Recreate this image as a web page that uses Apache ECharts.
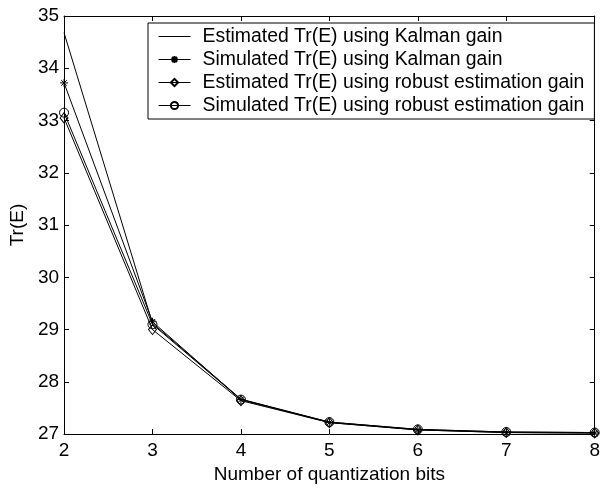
<!DOCTYPE html>
<html>
<head>
<meta charset="utf-8">
<script src="https://cdn.jsdelivr.net/npm/echarts@6/dist/echarts.min.js"></script>
<style>
  html, body { margin: 0; padding: 0; background: #fff; }
  #chart { width: 603px; height: 489px; }
</style>
</head>
<body>
<div id="chart"></div>
<script>
const bits = [2, 3, 4, 5, 6, 7, 8];
const estKalman = [34.68, 29.12, 27.67, 27.23, 27.09, 27.04, 27.03];
const simKalman = [33.72, 29.15, 27.66, 27.22, 27.08, 27.03, 27.02];
const estRobust = [33.05, 29.00, 27.64, 27.22, 27.08, 27.03, 27.02];
const simRobust = [33.15, 29.10, 27.66, 27.23, 27.09, 27.04, 27.03];
const seriesNames = [
  'Estimated Tr(E) using Kalman gain',
  'Simulated Tr(E) using Kalman gain',
  'Estimated Tr(E) using robust estimation gain',
  'Simulated Tr(E) using robust estimation gain'
];

const pairs = arr => bits.map((b, i) => [b, arr[i]]);
const FONT = 'Liberation Sans, Arial, Helvetica, sans-serif';
const starPath = 'path://M5,0L5,10M0,5L10,5M1.5,1.5L8.5,8.5M1.5,8.5L8.5,1.5';

function mkSeries(name, data, symbol, size) {
  const noSym = symbol === 'none';
  return {
    name: name,
    type: 'line',
    data: pairs(data),
    symbol: symbol,
    symbolSize: size,
    showSymbol: !noSym,
    lineStyle: { color: '#000', width: 1 },
    itemStyle: noSym
      ? { color: '#000', borderWidth: 0 }
      : { color: 'transparent', borderColor: '#000', borderWidth: 1 },
    emphasis: { disabled: true },
    animation: false,
    z: 3
  };
}

const axisCommon = {
  axisLine: { show: true, lineStyle: { color: '#000', width: 1 } },
  axisTick: { show: true, inside: true, length: 5, lineStyle: { color: '#000' } },
  splitLine: { show: false }
};

const chart = echarts.init(document.getElementById('chart'), null, { renderer: 'canvas' });
chart.setOption({
  backgroundColor: '#fff',
  animation: false,
  textStyle: { fontFamily: FONT },
  grid: { left: 57, right: 4, top: 16, bottom: 44, containLabel: false },
  legend: {
    orient: 'vertical',
    left: 148,
    top: 23,
    data: [
      { name: seriesNames[0], icon: 'path://M0,0L32,0L32,1L0,1Z' },
      { name: seriesNames[1] },
      { name: seriesNames[2] },
      { name: seriesNames[3] }
    ],
    backgroundColor: '#fff',
    borderColor: '#000',
    borderWidth: 1,
    borderRadius: 0,
    padding: [3, 10, 3, 10],
    itemWidth: 32,
    itemHeight: 9,
    itemGap: 2,
    selectedMode: false,
    lineStyle: { width: 1, color: '#000' },
    textStyle: { fontSize: 19.4, color: '#000', fontFamily: FONT, lineHeight: 21, padding: [0, 0, 0, 7] }
  },
  xAxis: [
    Object.assign({}, axisCommon, {
      type: 'value', position: 'bottom', min: 2, max: 8, interval: 1,
      axisLabel: { fontSize: 19, color: '#000', margin: 7, fontFamily: FONT },
      name: 'Number of quantization bits',
      nameLocation: 'middle', nameGap: 21,
      nameTextStyle: { fontSize: 19, color: '#000', fontFamily: FONT }
    }),
    Object.assign({}, axisCommon, {
      type: 'value', position: 'top', min: 2, max: 8, interval: 1,
      axisLabel: { show: false }
    })
  ],
  yAxis: [
    Object.assign({}, axisCommon, {
      type: 'value', position: 'left', min: 27, max: 35, interval: 1,
      axisLabel: { fontSize: 19, color: '#000', margin: 5, fontFamily: FONT },
      name: 'Tr(E)',
      nameLocation: 'middle', nameGap: 21,
      nameTextStyle: { fontSize: 19, color: '#000', fontFamily: FONT }
    }),
    Object.assign({}, axisCommon, {
      type: 'value', position: 'right', min: 27, max: 35, interval: 1,
      axisLabel: { show: false }
    })
  ],
  series: [
    mkSeries(seriesNames[0], estKalman, 'none', 0),
    mkSeries(seriesNames[1], simKalman, starPath, 8),
    mkSeries(seriesNames[2], estRobust, 'diamond', [8, 10]),
    mkSeries(seriesNames[3], simRobust, 'circle', 9)
  ]
});
</script>
</body>
</html>
